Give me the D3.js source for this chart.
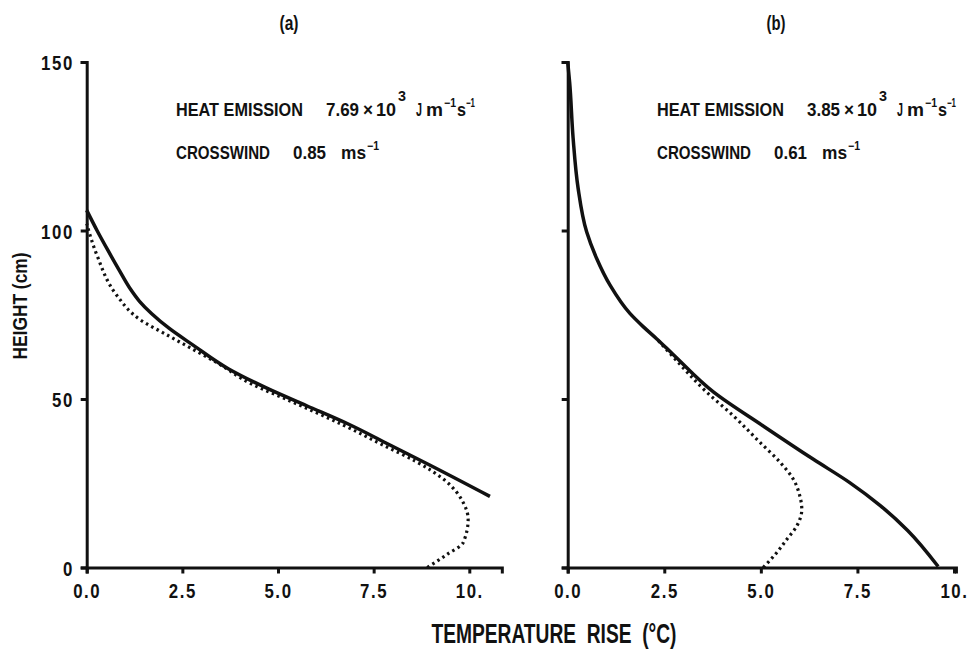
<!DOCTYPE html>
<html>
<head>
<meta charset="utf-8">
<style>
  body { margin: 0; background: #fff; }
  svg { display: block; }
  text { font-family: 'Liberation Sans', Arial, sans-serif; font-weight: bold; fill: #111; }
  .axis .domain { stroke: #111; stroke-width: 3; }
  .axis .tick line { stroke: #111; stroke-width: 3; }
  .axis .tick text { font-size: 21px; letter-spacing: 2px; }
  .curve { fill: none; stroke: #111; }
</style>
</head>
<body>
<svg width="970" height="651"></svg>
<script src="https://d3js.org/d3.v7.min.js"></script>
<script>
// values: [temperature rise (°C), height (cm)]
let solidA = [[0, 106], [0.27, 100], [0.56, 94], [0.86, 88], [1.12, 83], [1.38, 79], [1.7, 75.3], [2.15, 71],
  [2.78, 66], [3.7, 59], [4.75, 53], [5.75, 48], [6.85, 42.5], [7.9, 36.5], [8.95, 30.5], [10.54, 21.1]]
let dottedA = [[0, 102], [0.27, 92.6], [0.79, 80.7], [1.4, 73.5], [2.1, 69], [2.8, 64.6], [3.4, 60.8],
  [4.3, 54.5], [5.3, 49.5], [6.7, 42.3], [7.75, 36.3], [8.6, 31.5], [9.4, 25.5], [9.84, 19.3],
  [9.97, 14.3], [9.84, 7.4], [9.42, 3.9], [8.9, 0]]
let solidB = [[0, 150], [0.05, 144], [0.14, 127.4], [0.27, 112.5], [0.49, 99.6], [0.75, 91.7], [1.1, 83.7],
  [1.61, 75.4], [1.96, 71.4], [2.3, 67.9], [2.73, 63.2], [3.77, 52.1], [5.06, 42], [6.36, 32.1], [7.3, 25.2],
  [8.1, 18.3], [8.8, 11], [9.59, 0.3]]
let dottedB = [[2.3, 67.9], [2.73, 62.5], [3.6, 52], [4.29, 45], [4.98, 37.1], [5.5, 31.2], [5.84, 26.2],
  [6.01, 21.2], [6.06, 17.3], [5.93, 12.3], [5.67, 8.3], [5.41, 4.4], [5.06, 0]]

let xTicks = [0, 2.5, 5, 7.5, 10]
let xTickLabels = ["0.0", "2.5", "5.0", "7.5", "10."]
let yTicks = [0, 50, 100, 150]

let svg = d3.select("svg")

let y = d3.scaleLinear().domain([0, 150]).range([567.5, 62])

// pieces of the two notes: text, x offset, squeezed width, superscript size/raise
function noteLine1(v) {
  return [
    { t: "HEAT EMISSION", x: 0, w: 127 },
    { t: v, x: 150, w: 33 },
    { t: "\u00d7", x: 187, w: 10 },
    { t: "10", x: 200, w: 20 },
    { t: "3", x: 222, w: 8, size: 15, up: 15 },
    { t: "J", x: 240, w: 6 },
    { t: "m", x: 250, w: 17 },
    { t: "\u22121", x: 268, w: 12, size: 12, up: 9 },
    { t: "s", x: 281, w: 9 },
    { t: "\u22121", x: 290, w: 9, size: 12, up: 9 }
  ]
}
function noteLine2(v) {
  return [
    { t: "CROSSWIND", x: 0, w: 94 },
    { t: v, x: 117, w: 33 },
    { t: "ms", x: 165, w: 25 },
    { t: "\u22121", x: 191, w: 12, size: 12, up: 9 }
  ]
}

let panels = [
  { tag: "(a)", tagX: 289, left: 86.7, unit: 38.26, xMax: 10.85, solid: solidA, dotted: dottedA, yLabels: true,
    heat: "7.69", wind: "0.85", noteX: 176 },
  { tag: "(b)", tagX: 776, left: 567.7, unit: 38.63, xMax: 10.05, solid: solidB, dotted: dottedB, yLabels: false,
    heat: "3.85", wind: "0.61", noteX: 657 }
]

panels.forEach(p => {
  let x = d3.scaleLinear().domain([0, p.xMax]).range([p.left, p.left + p.unit * p.xMax])

  let xAxis = svg.append("g")
    .attr("class", "axis")
    .attr("transform", `translate(0,${y(0)})`)
    .call(d3.axisBottom(x).tickValues(xTicks).tickSizeOuter(0).tickSize(6)
      .tickFormat((d, i) => xTickLabels[i]))
  xAxis.selectAll(".tick text").attr("y", 31).attr("dy", null).attr("transform", "scale(0.8,1)")

  let yAxis = svg.append("g")
    .attr("class", "axis")
    .attr("transform", `translate(${x(0)},0)`)
    .call(d3.axisLeft(y).tickValues(yTicks).tickSizeOuter(0).tickSize(6)
      .tickFormat(d => p.yLabels ? d : ""))
  yAxis.selectAll(".tick text").attr("x", -16).attr("dy", "0.36em").attr("transform", "scale(0.8,1)")

  // heights only fall along each curve, so x is smoothed as a function of y
  let line = d3.line()
    .x(d => x(d[0]))
    .y(d => y(d[1]))
    .curve(d3.curveMonotoneY)

  svg.append("path").attr("class", "curve")
    .attr("d", line(p.dotted.slice().sort((a, b) => a[1] - b[1])))
    .attr("stroke-width", 3.2)
    .attr("stroke-dasharray", "2.5,3.5")

  svg.append("path").attr("class", "curve")
    .attr("d", line(p.solid.slice().sort((a, b) => a[1] - b[1])))
    .attr("stroke-width", 3.5)

  svg.append("text")
    .attr("x", p.tagX).attr("y", 30)
    .attr("text-anchor", "middle")
    .attr("textLength", 19).attr("lengthAdjust", "spacingAndGlyphs")
    .style("font-size", "20px")
    .text(p.tag)

  let rows = [{ base: 116, parts: noteLine1(p.heat) }, { base: 159, parts: noteLine2(p.wind) }]
  rows.forEach(r => {
    svg.append("g")
      .attr("transform", `translate(${p.noteX},${r.base})`)
      .selectAll("text")
      .data(r.parts)
      .join("text")
      .attr("x", d => d.x)
      .attr("y", d => d.up ? -d.up : 0)
      .attr("textLength", d => d.w)
      .attr("lengthAdjust", "spacingAndGlyphs")
      .style("font-size", d => (d.size || 19) + "px")
      .text(d => d.t)
  })
})

svg.append("text")
  .attr("transform", "translate(27,306) rotate(-90)")
  .attr("text-anchor", "middle")
  .attr("textLength", 107).attr("lengthAdjust", "spacingAndGlyphs")
  .style("font-size", "21px")
  .text("HEIGHT (cm)")

svg.append("text")
  .attr("x", 554).attr("y", 643)
  .attr("text-anchor", "middle")
  .attr("textLength", 245).attr("lengthAdjust", "spacingAndGlyphs")
  .style("font-size", "27px")
  .attr("xml:space", "preserve")
  .text("TEMPERATURE  RISE  (\u00b0C)")
</script>
</body>
</html>
